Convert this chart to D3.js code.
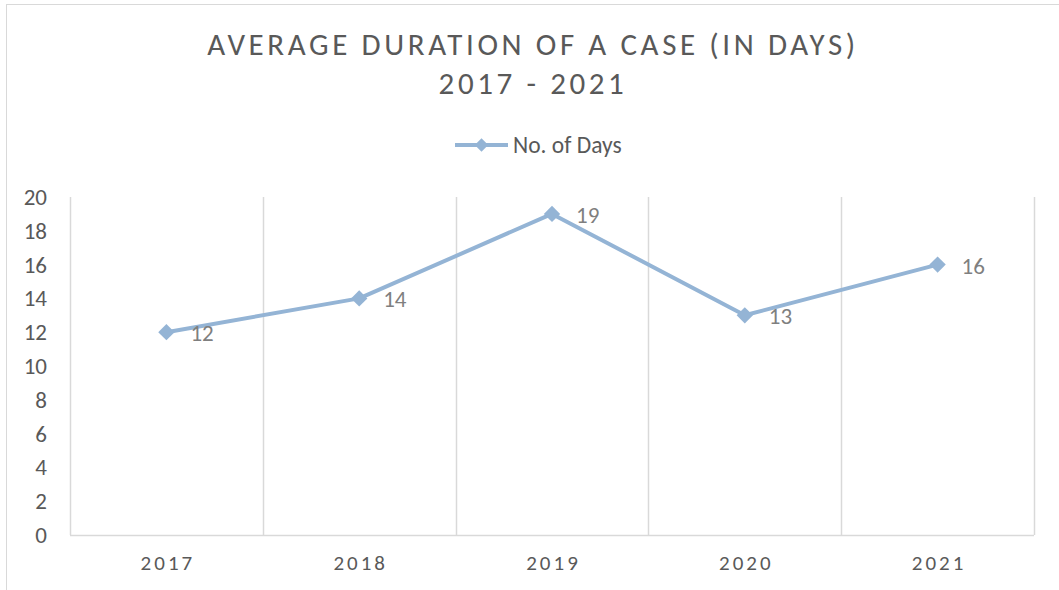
<!DOCTYPE html>
<html>
<head>
<meta charset="utf-8">
<script src="https://cdn.jsdelivr.net/npm/d3@7"></script>
<style>
  body { margin: 0; background: #fff; }
  text { font-family: Carlito, Calibri, "Open Sans", sans-serif; fill: #595959; }
</style>
</head>
<body>
<div id="chart"></div>
<script>
// Chart data
const years = ['2017', '2018', '2019', '2020', '2021'];
const days = [12, 14, 19, 13, 16];
const yTicks = [0, 2, 4, 6, 8, 10, 12, 14, 16, 18, 20];

const width = 1059, height = 590;
const margin = { top: 197, right: 25, bottom: 55, left: 70 };
const lineColor = '#94b4d5';

const svg = d3.select('#chart').append('svg')
  .attr('width', width)
  .attr('height', height);

// outer chart border (left and top visible)
svg.append('rect')
  .attr('x', 6.5).attr('y', 4.5)
  .attr('width', width + 10).attr('height', height + 10)
  .attr('fill', 'none')
  .attr('stroke', '#d9d9d9');

const x = d3.scaleBand()
  .domain(years)
  .range([margin.left, width - margin.right]);

const y = d3.scaleLinear()
  .domain([0, 20])
  .range([height - margin.bottom, margin.top]);

// vertical gridlines at category boundaries
const bounds = years.map(d => x(d)).concat([x.range()[1]]);
svg.append('g').selectAll('line')
  .data(bounds)
  .join('line')
  .attr('x1', d => Math.round(d) + 0.5)
  .attr('x2', d => Math.round(d) + 0.5)
  .attr('y1', y(20))
  .attr('y2', y(0))
  .attr('stroke', '#d9d9d9')
  .attr('stroke-width', 1.5);

// baseline
svg.append('line')
  .attr('x1', x.range()[0]).attr('x2', x.range()[1])
  .attr('y1', Math.round(y(0)) + 0.5).attr('y2', Math.round(y(0)) + 0.5)
  .attr('stroke', '#d9d9d9')
  .attr('stroke-width', 1.5);

// y tick labels
svg.append('g').selectAll('text')
  .data(yTicks)
  .join('text')
  .attr('x', 47)
  .attr('y', d => y(d))
  .attr('dy', '0.35em')
  .attr('text-anchor', 'end')
  .style('font-size', '23px')
  .text(d => d);

// x tick labels
svg.append('g').selectAll('text')
  .data(years)
  .join('text')
  .attr('x', d => x(d) + x.bandwidth() / 2 + 1.5)
  .attr('y', 563)
  .attr('dy', '0.35em')
  .attr('text-anchor', 'middle')
  .style('font-size', '21px')
  .style('letter-spacing', '3px')
  .text(d => d);

// title
const title = svg.append('text')
  .attr('x', 533)
  .attr('text-anchor', 'middle')
  .style('font-size', '31px')
  .style('letter-spacing', '3.6px');
title.append('tspan').attr('x', 533).attr('y', 55).text('AVERAGE DURATION OF A CASE (IN DAYS)');
title.append('tspan').attr('x', 533).attr('y', 94).text('2017 - 2021');

// legend
const legend = svg.append('g').attr('transform', 'translate(455,145)');
legend.append('line')
  .attr('x1', 0).attr('x2', 53)
  .attr('stroke', lineColor)
  .attr('stroke-width', 4);
legend.append('path')
  .attr('transform', 'translate(26.5,0)')
  .attr('d', d3.symbol(d3.symbolDiamond2, 115))
  .attr('fill', lineColor);
legend.append('text')
  .attr('x', 58)
  .attr('dy', '0.35em')
  .style('font-size', '23.5px')
  .text('No. of Days');

const pts = years.map((d, i) => ({ year: d, value: days[i] }));
const cx = d => x(d.year) + x.bandwidth() / 2;

// line
svg.append('path')
  .datum(pts)
  .attr('fill', 'none')
  .attr('stroke', lineColor)
  .attr('stroke-width', 4)
  .attr('stroke-linejoin', 'round')
  .attr('d', d3.line().x(cx).y(d => y(d.value)));

// markers
svg.append('g').selectAll('path')
  .data(pts)
  .join('path')
  .attr('transform', d => `translate(${cx(d)},${y(d.value)})`)
  .attr('d', d3.symbol(d3.symbolDiamond2, 170))
  .attr('fill', lineColor);

// data labels
svg.append('g').selectAll('text')
  .data(pts)
  .join('text')
  .attr('x', d => cx(d) + 24)
  .attr('y', d => y(d.value) + 1)
  .attr('dy', '0.35em')
  .style('font-size', '23px')
  .style('fill', '#7f7f7f')
  .text(d => d.value);
</script>
</body>
</html>
